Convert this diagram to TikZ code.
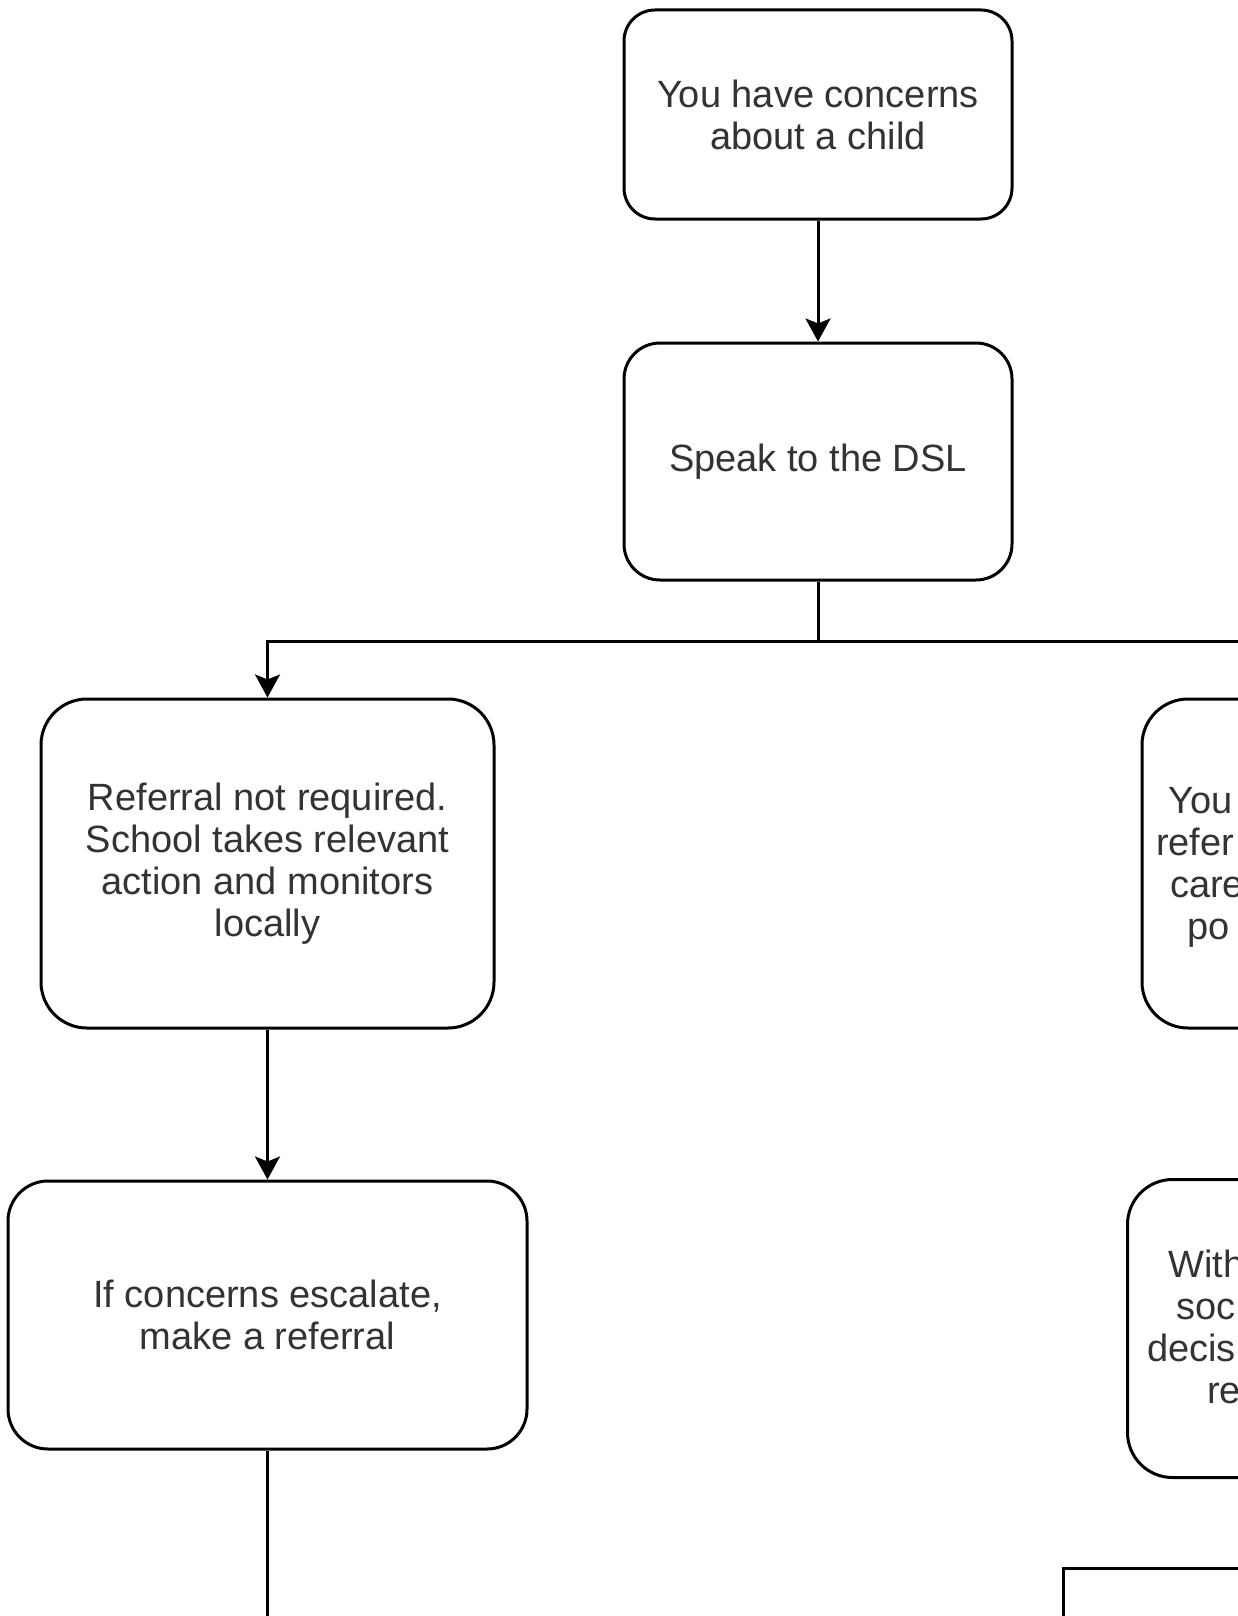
\documentclass[tikz,border=0pt]{standalone}
\usepackage{fontspec}
\setmainfont{Liberation Sans}
\usepackage{xcolor}
\definecolor{flowLine}{HTML}{000000}
\definecolor{flowText}{HTML}{333333}
\usepackage{tikz}
\usetikzlibrary{arrows.meta,positioning}
\tikzset{
    stepbox/.style={
        draw=flowLine,
        fill=white,
        rectangle,
        align=center,
        line width=3pt,
        inner sep=0pt,
        text=flowText,
        font=\fontsize{38}{42}\selectfont
    },
    plainbox/.style={
        draw=flowLine,
        fill=white,
        rectangle,
        line width=3pt
    },
    frag/.style={
        anchor=base west,
        inner sep=0pt,
        text=flowText,
        font=\fontsize{38}{42}\selectfont
    },
    arrow/.style={
        -{Stealth[length=23pt,width=25pt,inset=5pt]},
        line width=3pt,
        color=flowLine
    },
    link/.style={
        line width=3pt,
        color=flowLine
    }
}
\begin{document}
\begin{tikzpicture}[x=1pt, y=-1pt]
    \useasboundingbox (0,0) rectangle (1238,1616);
    \clip (0,0) rectangle (1238,1616);

    % Start of the flow
    \node[stepbox, minimum width=388pt, minimum height=209pt, rounded corners=31pt] (concern) at (818,114.5) {You have concerns\\about a child};
    \node[stepbox, below=121pt of concern, minimum width=388pt, minimum height=237pt, rounded corners=36pt] (dsl) {Speak to the DSL};

    % Left branch
    \node[stepbox, minimum width=453pt, minimum height=329pt, rounded corners=46pt] (monitor) at (267.5,863.5) {Referral not required.\\School takes relevant\\action and monitors\\locally};
    \node[stepbox, below=150pt of monitor, minimum width=519pt, minimum height=268pt, rounded corners=40pt] (escalate) {If concerns escalate,\\make a referral};
    \coordinate (onward) at (267.5,1660);

    % Right branch (cut by the page edge)
    \node[stepbox, minimum width=453pt, minimum height=329pt, rounded corners=46pt] (referral) at (1368.5,863.5) {};
    \node[frag] (refA) at (1168,813) {You};
    \node[frag] (refB) at (1156,855) {refer};
    \node[frag] (refC) at (1170,897) {care};
    \node[frag] (refD) at (1187,939) {po};

    \node[stepbox, anchor=north west, minimum width=480pt, minimum height=298pt, rounded corners=45pt] (outcome) at (1126,1178) {};
    \node[frag] (outA) at (1168,1277) {With};
    \node[frag] (outB) at (1176,1319) {soc};
    \node[frag] (outC) at (1147,1361) {decis};
    \node[frag] (outD) at (1207,1403) {re};

    \node[plainbox, anchor=north west, minimum width=400pt, minimum height=200pt] (nextstep) at (1062,1567) {};

    % Connectors
    \draw[arrow] (concern) -- (dsl);
    \draw[arrow] (dsl.south) -- ++(0,60) -| (monitor.north);
    \draw[arrow] (dsl.south) -- ++(0,60) -| (referral.north);
    \draw[arrow] (monitor) -- (escalate);
    \draw[link] (escalate) -- (onward);
\end{tikzpicture}
\end{document}
